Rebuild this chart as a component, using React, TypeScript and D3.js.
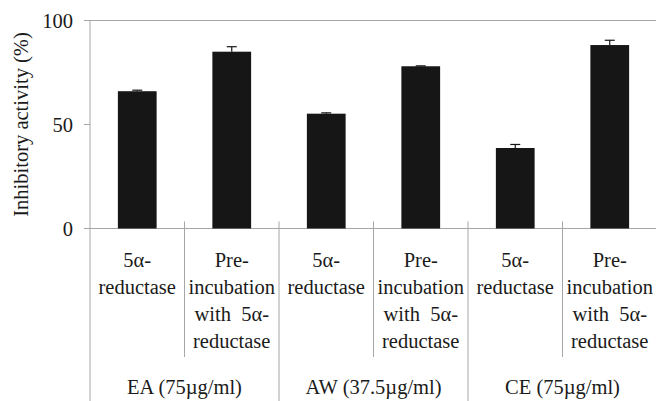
import React from 'react'
import * as d3 from 'd3'

// bars, left to right
const groups = ['EA (75\u00b5g/ml)', 'AW (37.5\u00b5g/ml)', 'CE (75\u00b5g/ml)']
const treatments = [
  ['5\u03b1-', 'reductase'],
  ['Pre-', 'incubation', 'with  5\u03b1-', 'reductase'],
]
const values = [66.0, 85.0, 55.2, 78.0, 38.7, 88.2]
const errors = [0.5, 2.4, 0.4, 0.2, 1.7, 2.3]
const yTicks = [0, 50, 100]

const W = 656, H = 401
const m = { left: 90, right: 0, top: 20.5, bottom: 172.5 }
const FONT = 'Liberation Serif'
const GRID = '#a6a6a6'
const INK = '#1a1a1a'

const App = () => {
  const cats = d3.range(values.length)
  const x = d3.scaleBand<number>()
    .domain(cats)
    .range([m.left, W - m.right + 1])
    .paddingInner(0.59)
    .paddingOuter(0.295)
  const y = d3.scaleLinear().domain([0, 100]).range([H - m.bottom, m.top])
  const step = x.step()
  const y0 = y(0)
  const fs = 20.5

  return (
    <svg width={W} height={H} style={{ position: 'absolute', left: 0, top: 0 }}>
      <rect width={W} height={H} fill="#fff" />
      {/* frame */}
      <line x1={m.left} x2={W} y1={m.top} y2={m.top} stroke={GRID} strokeWidth={1} />
      <line x1={m.left} x2={m.left} y1={m.top} y2={H} stroke={GRID} strokeWidth={1} />
      <line x1={m.left} x2={W} y1={y0} y2={y0} stroke={GRID} strokeWidth={1} />
      {yTicks.map(t => (
        <g key={t}>
          <line x1={m.left - 6} x2={m.left} y1={y(t)} y2={y(t)} stroke={GRID} />
          <text x={73} y={y(t)} dy="0.35em" textAnchor="end" fontSize={fs} fontFamily={FONT} fill={INK}>{t}</text>
        </g>
      ))}
      <text transform={`translate(28,${(m.top + y0) / 2}) rotate(-90)`} textAnchor="middle"
        fontSize={fs} fontFamily={FONT} fill={INK}>Inhibitory activity (%)</text>
      {/* bars */}
      {cats.map(i => {
        const cx = x(i)! + x.bandwidth() / 2
        const top = y(values[i] + errors[i])
        return (
          <g key={i}>
            <rect x={x(i)} y={y(values[i])} width={x.bandwidth()} height={y0 - y(values[i])} fill="#161616" />
            <line x1={cx} x2={cx} y1={top} y2={y(values[i])} stroke="#161616" strokeWidth={1.2} />
            <line x1={cx - 5} x2={cx + 5} y1={top} y2={top} stroke="#161616" strokeWidth={1.2} />
          </g>
        )
      })}
      {/* category separators */}
      {d3.range(1, values.length + 1).map(k => {
        const sx = m.left + k * step
        const isGroup = k % 2 === 0
        return <line key={k} x1={sx} x2={sx} y1={y0 - 7} y2={isGroup ? H : 357} stroke={GRID} strokeWidth={1} />
      })}
      {/* category labels */}
      {cats.map(i => {
        const cx = m.left + (i + 0.5) * step
        const lines = treatments[i % 2]
        return (
          <text key={i} textAnchor="middle" fontSize={fs} fontFamily={FONT} fill={INK}>
            {lines.map((l, j) => (
              <tspan key={j} x={cx} y={266.5 + j * 27.3} style={{ whiteSpace: 'pre' }}>{l}</tspan>
            ))}
          </text>
        )
      })}
      {groups.map((g, i) => (
        <text key={g} x={m.left + (i + 0.5) * 2 * step} y={394} textAnchor="middle" fontSize={fs}
          fontFamily={FONT} fill={INK}>{g}</text>
      ))}
    </svg>
  )
}

export default App
